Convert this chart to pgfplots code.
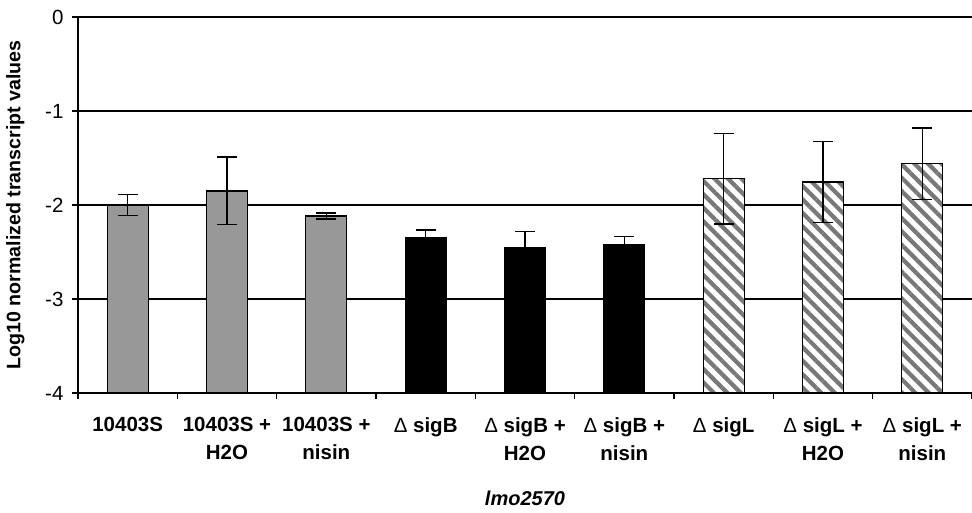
\documentclass[border=0pt]{standalone}
\usepackage{pgfplots}
\pgfplotsset{compat=1.18}
\usepackage{pgfplotstable}
\usetikzlibrary{patterns.meta}
\usepackage{fontspec}
\setmainfont{Liberation Sans}
\definecolor{bargray}{RGB}{152,152,152}
\definecolor{stripegray}{RGB}{120,120,120}
\newcommand{\D}{{\mdseries Δ}}

\pgfplotstableread{
x y e
0 -2.00 0.11
1 -1.85 0.36
2 -2.117 0.03
}\wt
\pgfplotstableread{
x y e
3 -2.347 0.08
4 -2.453 0.17
5 -2.418 0.08
}\sigB
\pgfplotstableread{
x y e
6 -1.72 0.48
7 -1.755 0.43
8 -1.56 0.38
}\sigL

\begin{document}
\begin{tikzpicture}[x=1pt,y=1pt]
\useasboundingbox (0,0) rectangle (972,512);
\begin{axis}[
  at={(78pt,119pt)}, anchor=south west,
  scale only axis, width=894pt, height=376pt,
  xmin=-0.5, xmax=8.5, ymin=0, ymax=4,
  axis x line*=bottom, axis y line*=left,
  axis line style={black, line width=1.5pt},
  ytick={0,1,2,3,4}, yticklabels={-4,-3,-2,-1,0},
  ymajorgrids, grid style={black, line width=1.5pt},
  ytick style={black, line width=1.5pt},
  yticklabel style={font=\fontsize{20.5}{24}\selectfont, xshift=-5pt},
  xtick={-0.5,0.5,...,8.5},
  x tick label as interval,
  xticklabels={10403S, {10403S +\\H2O}, {10403S +\\nisin}, {\D\ sigB}, {\D\ sigB +\\H2O}, {\D\ sigB +\\nisin}, {\D\ sigL}, {\D\ sigL +\\H2O}, {\D\ sigL +\\nisin}},
  xticklabel style={font=\fontsize{20.5}{28}\selectfont\bfseries, align=center, anchor=north, yshift=-15pt},
  xtick style={black, line width=1.5pt},
  tick align=outside, major tick length=6pt,
  ylabel={Log10 normalized transcript values},
  ylabel style={font=\fontsize{19.6}{22}\selectfont\bfseries, at={(axis description cs:-0.07,0.5)}, anchor=center},
  xlabel={lmo2570},
  xlabel style={font=\fontsize{20}{22}\selectfont\bfseries\itshape, at={(axis description cs:0.5,-0.281)}, anchor=center},
  ybar, bar width=41pt, bar shift=0pt,
  clip=false,
  error bars/y dir=both, error bars/y explicit,
  error bars/error bar style={black, line width=1.4pt},
  error bars/error mark options={rotate=90, mark size=10pt, line width=1.4pt, black},
]
\addplot[draw=black, line width=1.2pt, fill=bargray] table[x=x, y expr=\thisrow{y}+4, y error=e] {\wt};
\addplot[draw=black, line width=1.2pt, fill=black] table[x=x, y expr=\thisrow{y}+4, y error=e] {\sigB};
\addplot[draw=black, line width=1.2pt, fill=white, postaction={pattern={Lines[angle=-45, distance=9.5pt, line width=4.2pt]}, pattern color=stripegray}] table[x=x, y expr=\thisrow{y}+4, y error=e] {\sigL};
\end{axis}
\end{tikzpicture}
\end{document}
